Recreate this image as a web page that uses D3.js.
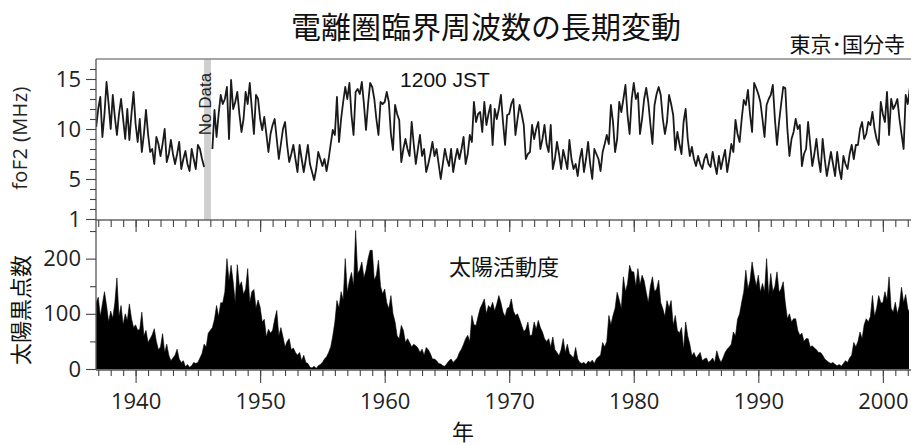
<!DOCTYPE html>
<html>
<head>
<meta charset="utf-8">
<script src="https://cdn.jsdelivr.net/npm/d3@7"></script>
<style>
body { margin: 0; background: #fff; }
svg { display: block; }
.ax path { display: none; }
.ax line { stroke: #444; stroke-width: 1.1; }
.ax text { font-family: "Open Sans", sans-serif; font-size: 22px; fill: #222; }
</style>
</head>
<body>
<div id="chart"></div>
<script>
// bimonthly samples, first one Nov 1936, then 6 per year (Jan, Mar, May, Jul, Sep, Nov)
const dataStart = 1936 + 10 / 12
const perYear = 6

// foF2 at 1200 JST, MHz (null = no data)
const foF2 = [
  10.2,
  12.0, 13.2, 9.2, 11.5, 14.7, 12.5,   // 1937
  10.0, 13.4, 11.2, 9.4, 11.5, 13.0,   // 1938
  11.0, 9.0, 12.0, 8.9, 11.5, 13.7,    // 1939
  10.5, 8.7, 11.0, 7.7, 9.5, 11.9,     // 1940
  9.5, 7.7, 8.0, 6.5, 9.2, 8.5,        // 1941
  7.3, 8.5, 10.0, 6.7, 7.5, 8.9,       // 1942
  7.5, 6.5, 7.5, 8.7, 6.0, 7.0,        // 1943
  7.8, 6.5, 5.8, 8.0, 7.0, 6.0,        // 1944
  8.4, 8.0, 7.0, 6.2, null, null,      // 1945
  null, 8.0, 11.9, 9.2, 11.5, 13.4,    // 1946
  12.5, 13.0, 14.2, 9.0, 14.9, 12.0,   // 1947
  12.7, 13.7, 11.5, 9.7, 11.0, 13.7,   // 1948
  12.5, 14.6, 12.0, 9.5, 13.4, 13.0,   // 1949
  11.0, 9.9, 11.2, 9.5, 7.7, 9.5,      // 1950
  10.4, 11.0, 9.0, 7.0, 8.5, 10.0,     // 1951
  10.7, 8.4, 6.7, 7.5, 8.4, 7.0,       // 1952
  5.7, 8.4, 7.0, 5.7, 7.0, 8.4,        // 1953
  6.5, 5.7, 4.9, 6.0, 7.7, 7.0,        // 1954
  6.3, 7.0, 5.8, 7.0, 8.5, 9.9,        // 1955
  9.4, 13.2, 8.7, 11.0, 12.7, 14.2,    // 1956
  13.0, 14.6, 11.4, 9.4, 13.7, 14.0,   // 1957
  13.5, 14.7, 12.5, 9.9, 12.5, 14.6,   // 1958
  14.2, 13.0, 11.0, 9.4, 12.7, 12.5,   // 1959
  12.7, 13.7, 12.7, 9.5, 7.9, 12.4,    // 1960
  11.5, 10.9, 6.7, 8.0, 9.0, 8.0,      // 1961
  7.3, 10.7, 8.5, 6.5, 8.0, 9.4,       // 1962
  7.3, 8.0, 5.7, 6.5, 7.5, 8.7,        // 1963
  7.3, 8.0, 6.5, 5.0, 6.5, 8.0,        // 1964
  7.0, 6.3, 8.0, 5.7, 7.0, 8.0,        // 1965
  7.0, 8.0, 9.2, 6.5, 7.5, 9.4,        // 1966
  8.7, 12.7, 10.7, 11.5, 11.7, 9.7,    // 1967
  12.7, 10.4, 11.5, 12.4, 8.4, 12.0,   // 1968
  11.0, 12.0, 13.4, 10.7, 8.4, 11.4,   // 1969
  11.5, 12.5, 13.0, 9.4, 11.0, 12.4,   // 1970
  11.5, 10.4, 7.0, 7.5, 7.7, 10.4,     // 1971
  9.0, 10.0, 10.7, 8.0, 9.0, 10.4,     // 1972
  8.5, 7.7, 10.4, 6.0, 7.0, 8.7,       // 1973
  7.5, 6.0, 7.9, 7.0, 6.0, 8.9,        // 1974
  7.0, 6.0, 6.5, 5.3, 7.0, 8.0,        // 1975
  5.7, 7.0, 8.7, 6.5, 5.0, 8.0,        // 1976
  7.5, 7.0, 5.8, 7.7, 8.5, 9.4,        // 1977
  8.5, 12.4, 10.7, 7.7, 9.0, 12.7,     // 1978
  11.7, 13.0, 14.4, 11.4, 9.5, 13.0,   // 1979
  14.6, 13.0, 13.6, 9.5, 11.0, 13.0,   // 1980
  14.1, 12.7, 10.5, 8.5, 12.4, 13.5,   // 1981
  14.2, 13.4, 11.0, 9.5, 10.7, 13.4,   // 1982
  12.5, 11.4, 7.9, 9.7, 8.5, 7.5,      // 1983
  10.7, 12.0, 9.0, 7.3, 8.2, 7.0,      // 1984
  6.3, 7.3, 6.5, 6.0, 7.0, 7.5,        // 1985
  6.5, 6.2, 7.7, 6.5, 5.5, 7.3,        // 1986
  6.0, 7.0, 7.9, 5.7, 7.0, 8.5,        // 1987
  7.7, 10.9, 9.5, 8.7, 11.0, 12.9,     // 1988
  12.4, 13.9, 11.5, 9.7, 14.6, 14.1,   // 1989
  13.5, 12.7, 11.0, 9.2, 12.4, 13.0,   // 1990
  13.4, 14.4, 11.0, 8.4, 10.7, 12.5,   // 1991
  14.2, 14.1, 10.0, 7.3, 9.0, 9.7,     // 1992
  11.0, 10.0, 10.4, 6.3, 7.5, 8.0,     // 1993
  10.7, 8.5, 6.3, 7.5, 9.0, 7.0,       // 1994
  5.7, 9.0, 7.0, 5.3, 6.5, 7.7,        // 1995
  6.5, 5.3, 7.7, 6.0, 5.0, 7.3,        // 1996
  6.5, 6.0, 7.5, 8.4, 7.0, 8.4,        // 1997
  8.4, 10.0, 10.7, 9.0, 9.5, 10.7,     // 1998
  10.4, 11.7, 10.0, 9.0, 8.4, 12.7,    // 1999
  11.5, 10.7, 13.7, 9.4, 13.0, 12.0,   // 2000
  12.4, 13.0, 11.0, 9.5, 8.0, 13.4,    // 2001
  12.5, 14.1                           // 2002
]

// sunspot number
const sunspots = [
  120,
  130, 95, 118, 140, 115, 85,      // 1937
  105, 92, 120, 165, 95, 115,      // 1938
  80, 100, 88, 118, 92, 75,        // 1939
  80, 70, 72, 103, 60, 70,         // 1940
  48, 55, 62, 73, 50, 35,          // 1941
  40, 64, 30, 45, 25, 15,          // 1942
  20, 25, 36, 18, 12, 15,          // 1943
  4, 8, 3, 6, 12, 10,              // 1944
  12, 20, 28, 45, 40, 65,          // 1945
  70, 75, 90, 115, 95, 120,        // 1946
  120, 140, 200, 160, 188, 158,    // 1947
  120, 189, 150, 158, 135, 145,    // 1948
  182, 120, 140, 144, 110, 125,    // 1949
  112, 85, 90, 58, 72, 65,         // 1950
  70, 90, 106, 60, 75, 58,         // 1951
  40, 50, 55, 35, 38, 30,          // 1952
  25, 30, 15, 25, 12, 10,          // 1953
  3, 2, 5, 1, 6, 8,                // 1954
  12, 18, 22, 30, 40, 60,          // 1955
  85, 124, 110, 140, 125, 200,     // 1956
  139, 160, 175, 150, 251, 173,    // 1957
  180, 194, 165, 179, 200, 215,    // 1958
  215, 161, 170, 197, 150, 136,    // 1959
  145, 120, 109, 133, 100, 85,     // 1960
  60, 55, 79, 70, 48, 55,          // 1961
  48, 40, 45, 42, 38, 30,          // 1962
  36, 25, 39, 35, 28, 18,          // 1963
  18, 15, 10, 9, 6, 5,             // 1964
  10, 15, 18, 12, 16, 20,          // 1965
  30, 36, 45, 55, 61, 50,          // 1966
  97, 80, 79, 95, 110, 118,        // 1967
  127, 100, 115, 110, 121, 105,    // 1968
  118, 133, 120, 103, 95, 110,     // 1969
  112, 127, 105, 97, 100, 90,      // 1970
  79, 68, 72, 85, 60, 62,          // 1971
  85, 72, 88, 75, 67, 55,          // 1972
  50, 55, 40, 58, 35, 30,          // 1973
  24, 35, 55, 30, 45, 28,          // 1974
  24, 20, 39, 18, 12, 10,          // 1975
  12, 8, 14, 12, 16, 10,           // 1976
  18, 22, 25, 48, 40, 50,          // 1977
  97, 80, 97, 110, 139, 125,       // 1978
  109, 167, 140, 155, 188, 176,    // 1979
  176, 150, 182, 152, 170, 160,    // 1980
  139, 120, 150, 167, 140, 145,    // 1981
  161, 120, 109, 95, 124, 110,     // 1982
  124, 79, 97, 70, 65, 75,         // 1983
  36, 85, 60, 45, 24, 30,          // 1984
  20, 25, 30, 15, 18, 20,          // 1985
  12, 15, 20, 12, 33, 20,          // 1986
  12, 20, 30, 36, 40, 45,          // 1987
  67, 60, 90, 100, 121, 140,       // 1988
  179, 145, 160, 194, 170, 150,    // 1989
  170, 139, 155, 140, 200, 133,    // 1990
  173, 140, 150, 176, 139, 145,    // 1991
  158, 120, 91, 100, 85, 91,       // 1992
  91, 70, 61, 65, 50, 55,          // 1993
  55, 40, 42, 38, 35, 30,          // 1994
  30, 25, 18, 15, 12, 10,          // 1995
  12, 8, 6, 8, 5, 10,              // 1996
  15, 12, 20, 25, 48, 40,          // 1997
  50, 67, 55, 80, 91, 85,          // 1998
  95, 133, 95, 110, 133, 120,      // 1999
  120, 140, 125, 167, 110, 103,    // 2000
  121, 100, 115, 148, 120, 135,    // 2001
  109, 100                         // 2002
]

const noDataYears = [1945.5, 1946.05]
const decadeTicks = [1940, 1950, 1960, 1970, 1980, 1990, 2000]
const yearTicks = d3.range(1937, 2003)
const foF2Ticks = [1, 5, 10, 15]
const foF2Minor = [2, 3, 4, 6, 7, 8, 9, 11, 12, 13, 14, 16]
const sunspotTicks = [0, 100, 200]
const sunspotMinor = [50, 150, 250]

const width = 911, height = 445
const left = 96, right = 909

const svg = d3.select("#chart").append("svg")
  .attr("width", width).attr("height", height)

const x = d3.scaleLinear().domain([1936.82, 2002.1]).range([left, right])
const yF = d3.scaleLinear().domain([1, 17]).range([219, 59])
const yS = d3.scaleLinear().domain([0, 270]).range([369, 220])

const t = i => dataStart + i / perYear

svg.append("clipPath").attr("id", "clip")
  .append("rect").attr("x", left).attr("y", 55).attr("width", right - left).attr("height", 320)

// no data band
svg.append("rect")
  .attr("x", x(noDataYears[0])).attr("y", 59)
  .attr("width", x(noDataYears[1]) - x(noDataYears[0]))
  .attr("height", 220 - 59)
  .attr("fill", "#cfcfcf")

// foF2 line
const line = d3.line()
  .defined(d => d != null)
  .x((d, i) => x(t(i)))
  .y(d => yF(d))
svg.append("path")
  .datum(foF2)
  .attr("clip-path", "url(#clip)")
  .attr("d", line)
  .attr("fill", "none")
  .attr("stroke", "#1a1a1a")
  .attr("stroke-width", 1.8)
  .attr("stroke-linejoin", "round")

// sunspot area
const area = d3.area()
  .x((d, i) => x(t(i)))
  .y0(yS(0))
  .y1(d => yS(d))
svg.append("path")
  .datum(sunspots)
  .attr("clip-path", "url(#clip)")
  .attr("d", area)
  .attr("fill", "#000")
  .attr("stroke", "#000")
  .attr("stroke-width", 0.6)

// frame lines
svg.append("line").attr("x1", left).attr("x2", width).attr("y1", 59).attr("y2", 59)
  .attr("stroke", "#888").attr("stroke-width", 1.6)
svg.append("line").attr("x1", left).attr("x2", width).attr("y1", 220).attr("y2", 220)
  .attr("stroke", "#666").attr("stroke-width", 1.3)
svg.append("line").attr("x1", left).attr("x2", width).attr("y1", 370).attr("y2", 370)
  .attr("stroke", "#555").attr("stroke-width", 1.3)
svg.append("line").attr("x1", left).attr("x2", left).attr("y1", 59).attr("y2", 370)
  .attr("stroke", "#555").attr("stroke-width", 1.3)

// middle x axis (ticks only)
svg.append("g").attr("class", "ax").attr("transform", "translate(0,220)")
  .call(d3.axisBottom(x).tickValues(yearTicks).tickSize(7).tickFormat(""))
svg.append("g").attr("class", "ax").attr("transform", "translate(0,220)")
  .call(d3.axisBottom(x).tickValues(decadeTicks).tickSize(12).tickFormat(""))

// bottom x axis
svg.append("g").attr("class", "ax").attr("transform", "translate(0,370)")
  .call(d3.axisBottom(x).tickValues(yearTicks).tickSize(6).tickFormat(""))
svg.append("g").attr("class", "ax").attr("transform", "translate(0,370)")
  .call(d3.axisBottom(x).tickValues(decadeTicks).tickSize(13).tickPadding(10).tickFormat(d3.format("d")))

// y axes
svg.append("g").attr("class", "ax").attr("transform", `translate(${left},0)`)
  .call(d3.axisLeft(yF).tickValues(foF2Minor).tickSize(6).tickFormat(""))
svg.append("g").attr("class", "ax").attr("transform", `translate(${left},0)`)
  .call(d3.axisLeft(yF).tickValues(foF2Ticks).tickSize(10).tickPadding(5))
svg.append("g").attr("class", "ax").attr("transform", `translate(${left},0)`)
  .call(d3.axisLeft(yS).tickValues(sunspotMinor).tickSize(6).tickFormat(""))
svg.append("g").attr("class", "ax").attr("transform", `translate(${left},0)`)
  .call(d3.axisLeft(yS).tickValues(sunspotTicks).tickSize(10).tickPadding(5))

// texts
const jp = '"Noto Sans CJK JP", sans-serif'
svg.append("text").attr("x", 486).attr("y", 38).attr("text-anchor", "middle")
  .attr("font-family", jp).attr("font-size", 30).attr("fill", "#111")
  .text("電離圏臨界周波数の長期変動")
svg.append("text").attr("x", 905).attr("y", 52).attr("text-anchor", "end")
  .attr("font-family", jp).attr("font-size", 21).attr("fill", "#111")
  .text("東京･国分寺")
svg.append("text").attr("x", 445).attr("y", 87).attr("text-anchor", "middle")
  .attr("font-family", '"Liberation Sans", Arial, sans-serif').attr("font-size", 21).attr("fill", "#111")
  .text("1200 JST")
svg.append("text").attr("x", 504).attr("y", 275).attr("text-anchor", "middle")
  .attr("font-family", jp).attr("font-size", 22).attr("fill", "#111")
  .text("太陽活動度")
svg.append("text").attr("transform", "translate(211,104) rotate(-90)").attr("text-anchor", "middle")
  .attr("font-family", '"Liberation Sans", Arial, sans-serif').attr("font-size", 17).attr("fill", "#222")
  .text("No Data")
svg.append("text").attr("transform", "translate(27,138) rotate(-90)").attr("text-anchor", "middle")
  .attr("font-family", '"Open Sans", sans-serif').attr("font-size", 20).attr("letter-spacing", 0.4).attr("fill", "#222")
  .text("foF2 (MHz)")
svg.append("text").attr("transform", "translate(29,310) rotate(-90)").attr("text-anchor", "middle")
  .attr("font-family", jp).attr("font-size", 22).attr("fill", "#111")
  .text("太陽黒点数")
svg.append("text").attr("x", 463).attr("y", 440).attr("text-anchor", "middle")
  .attr("font-family", jp).attr("font-size", 22).attr("fill", "#111")
  .text("年")
</script>
</body>
</html>
